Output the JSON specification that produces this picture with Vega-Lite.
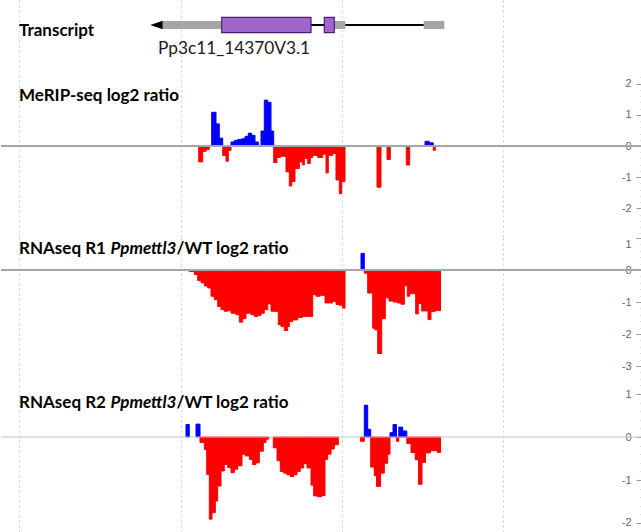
{
"$schema":"https://vega.github.io/schema/vega-lite/v6.json",
"padding":0,
"spacing":0,
"background":"#ffffff",
"config":{"view":{"stroke":null},"font":"Lato"},
"datasets":{
"gene":[
{"part":"arrow","start":149.3,"end":161.7},
{"part":"UTR","start":161.7,"end":220.7},
{"part":"CDS","start":220.7,"end":310},
{"part":"intron","start":310,"end":323.3},
{"part":"CDS","start":323.3,"end":333.3},
{"part":"UTR","start":333.3,"end":344.3},
{"part":"intron","start":344.3,"end":422.7},
{"part":"UTR","start":422.7,"end":443.3}
],
"labels":[
{"id":"transcript","text":"Transcript"},
{"id":"gene","text":"Pp3c11_14370V3.1"},
{"id":"merip","text":"MeRIP-seq log2 ratio"},
{"id":"r1a","text":"RNAseq R1"},
{"id":"r1b","text":"Ppmettl3"},
{"id":"r1c","text":"/WT log2 ratio"},
{"id":"r2a","text":"RNAseq R2"},
{"id":"r2b","text":"Ppmettl3"},
{"id":"r2c","text":"/WT log2 ratio"}
],
"merip":[
{"s":197.7,"e":201.7,"v":-0.51},{"s":201.7,"e":205,"v":-0.17},{"s":205,"e":208.3,"v":-0.11},
{"s":210.7,"e":215,"v":1.08},{"s":215,"e":218.3,"v":0.71},{"s":218.3,"e":221.7,"v":0.25},
{"s":221.7,"e":225,"v":-0.30},{"s":225,"e":227.3,"v":-0.49},{"s":227.3,"e":230,"v":-0.14},
{"s":230,"e":233.3,"v":0.13},{"s":233.3,"e":236.7,"v":0.18},{"s":236.7,"e":240.7,"v":0.21},
{"s":240.7,"e":244,"v":0.23},{"s":244,"e":247.3,"v":0.31},{"s":247.3,"e":250.7,"v":0.41},
{"s":250.7,"e":254,"v":0.34},{"s":254,"e":257.3,"v":0.13},
{"s":260,"e":263.3,"v":0.48},{"s":263.3,"e":266.7,"v":1.47},{"s":266.7,"e":270,"v":1.40},{"s":270,"e":272.7,"v":0.48},
{"s":272.7,"e":276,"v":-0.53},{"s":276,"e":279.3,"v":-0.37},{"s":279.3,"e":285,"v":-0.33},
{"s":285,"e":288.3,"v":-0.83},{"s":288.3,"e":290.7,"v":-1.28},{"s":290.7,"e":294,"v":-1.14},
{"s":294,"e":298.3,"v":-0.72},{"s":298.3,"e":301.7,"v":-0.51},{"s":301.7,"e":303.3,"v":-0.61},
{"s":303.3,"e":306.7,"v":-0.40},{"s":306.7,"e":309.3,"v":-0.56},{"s":309.3,"e":311.7,"v":-0.37},
{"s":311.7,"e":316.7,"v":-0.30},{"s":316.7,"e":321.7,"v":-0.37},{"s":321.7,"e":325,"v":-0.26},
{"s":325,"e":327.3,"v":-0.86},{"s":327.3,"e":331.7,"v":-0.30},{"s":331.7,"e":335,"v":-0.24},
{"s":335,"e":338.3,"v":-1.09},{"s":338.3,"e":340.7,"v":-1.53},{"s":340.7,"e":344,"v":-1.14},
{"s":376,"e":380,"v":-1.32},{"s":386,"e":389.3,"v":-0.43},{"s":405.3,"e":408.7,"v":-0.61},
{"s":424,"e":428.3,"v":0.15},{"s":428.3,"e":432.3,"v":0.10},{"s":432.3,"e":434.3,"v":-0.14}
],
"r1":[
{"s":188.3,"e":193.3,"v":-0.05},{"s":193.3,"e":196.7,"v":-0.14},{"s":196.7,"e":200,"v":-0.33},
{"s":200,"e":203.3,"v":-0.40},{"s":203.3,"e":206.7,"v":-0.50},{"s":206.7,"e":210,"v":-0.56},
{"s":210,"e":213.3,"v":-0.82},{"s":213.3,"e":216.7,"v":-0.93},{"s":216.7,"e":220,"v":-1.14},
{"s":220,"e":223.3,"v":-1.24},{"s":223.3,"e":226.7,"v":-1.29},{"s":226.7,"e":230,"v":-1.27},
{"s":230,"e":235,"v":-1.35},{"s":235,"e":238.3,"v":-1.40},{"s":238.3,"e":241.7,"v":-1.63},
{"s":241.7,"e":245,"v":-1.52},{"s":245,"e":250,"v":-1.35},{"s":250,"e":253.3,"v":-1.40},
{"s":253.3,"e":256.7,"v":-1.45},{"s":256.7,"e":260,"v":-1.42},{"s":260,"e":263.3,"v":-1.35},
{"s":263.3,"e":266.7,"v":-1.24},{"s":266.7,"e":270,"v":-1.06},{"s":270,"e":277.3,"v":-1.29},
{"s":277.3,"e":280,"v":-1.71},{"s":280,"e":283.3,"v":-1.77},{"s":283.3,"e":286.7,"v":-1.89},
{"s":286.7,"e":288.3,"v":-1.77},{"s":288.3,"e":291.7,"v":-1.61},{"s":291.7,"e":296.7,"v":-1.56},
{"s":296.7,"e":301.7,"v":-1.48},{"s":301.7,"e":306.7,"v":-1.45},{"s":306.7,"e":311.7,"v":-1.45},
{"s":311.7,"e":315,"v":-0.77},{"s":315,"e":319.3,"v":-0.82},{"s":319.3,"e":324,"v":-0.79},
{"s":324,"e":327.3,"v":-1.03},{"s":327.3,"e":331.7,"v":-1.03},{"s":331.7,"e":335,"v":-0.98},
{"s":335,"e":338.3,"v":-1.08},{"s":338.3,"e":341.7,"v":-1.10},{"s":341.7,"e":344,"v":-1.19},
{"s":360,"e":363.3,"v":0.52},
{"s":363.3,"e":366.7,"v":-0.10},{"s":366.7,"e":371.7,"v":-0.72},{"s":371.7,"e":374,"v":-1.82},
{"s":374,"e":376.7,"v":-1.87},{"s":376.7,"e":380.7,"v":-2.61},{"s":380.7,"e":384.3,"v":-1.52},
{"s":384.3,"e":388,"v":-0.87},{"s":388,"e":392.5,"v":-0.97},{"s":392.5,"e":396.7,"v":-1.00},
{"s":396.7,"e":400,"v":-1.03},{"s":400,"e":403.3,"v":-1.07},{"s":403.3,"e":406.3,"v":-0.49},
{"s":406.3,"e":408.7,"v":-0.82},{"s":408.7,"e":414.7,"v":-0.74},{"s":414.7,"e":417.3,"v":-1.37},
{"s":417.3,"e":420.7,"v":-1.05},{"s":420.7,"e":427,"v":-1.28},{"s":427,"e":430,"v":-1.55},
{"s":430,"e":434,"v":-1.30},{"s":434,"e":439.5,"v":-1.27}
],
"r2":[
{"s":185,"e":188.3,"v":0.29},{"s":195,"e":199,"v":0.30},
{"s":199,"e":203.3,"v":-0.13},{"s":203.3,"e":205.7,"v":-0.29},{"s":205.7,"e":208.3,"v":-0.87},
{"s":208.3,"e":211,"v":-1.91},{"s":211,"e":214.3,"v":-1.76},{"s":214.3,"e":216.7,"v":-1.49},
{"s":216.7,"e":220,"v":-1.14},{"s":220,"e":223.3,"v":-0.79},{"s":223.3,"e":226.7,"v":-0.64},
{"s":226.7,"e":230,"v":-0.71},{"s":230,"e":233.3,"v":-0.83},{"s":233.3,"e":236.7,"v":-0.75},
{"s":236.7,"e":241,"v":-0.67},{"s":241,"e":244.3,"v":-0.40},{"s":244.3,"e":248.3,"v":-0.44},
{"s":248.3,"e":251.7,"v":-0.52},{"s":251.7,"e":255,"v":-0.64},{"s":255,"e":258.3,"v":-0.60},
{"s":258.3,"e":262.3,"v":-0.33},{"s":262.3,"e":265,"v":-0.13},{"s":265,"e":267.7,"v":-0.05},
{"s":272.3,"e":276,"v":-0.25},{"s":276,"e":279.3,"v":-0.55},{"s":279.3,"e":282.7,"v":-0.80},
{"s":282.7,"e":286,"v":-0.84},{"s":286,"e":289.3,"v":-0.88},{"s":289.3,"e":292.7,"v":-0.92},
{"s":292.7,"e":296,"v":-0.88},{"s":296,"e":299.3,"v":-0.80},{"s":299.3,"e":302.7,"v":-0.72},
{"s":302.7,"e":306,"v":-0.62},{"s":306,"e":310,"v":-0.72},{"s":310,"e":312.7,"v":-1.12},
{"s":312.7,"e":316.7,"v":-1.37},{"s":316.7,"e":320.7,"v":-1.39},{"s":320.7,"e":324,"v":-1.36},
{"s":324,"e":326.7,"v":-0.52},{"s":326.7,"e":330,"v":-0.40},{"s":330,"e":333.3,"v":-0.28},
{"s":333.3,"e":337.3,"v":-0.18},
{"s":359.5,"e":363.3,"v":-0.10},{"s":363.3,"e":366.7,"v":0.74},{"s":366.7,"e":369.7,"v":0.18},
{"s":369.7,"e":373.3,"v":-0.70},{"s":373.3,"e":375.5,"v":-0.90},{"s":375.5,"e":379.5,"v":-1.15},
{"s":379.5,"e":383.3,"v":-0.84},{"s":383.3,"e":386.7,"v":-0.61},{"s":386.7,"e":389,"v":-0.40},
{"s":389,"e":392,"v":0.10},{"s":392,"e":395.5,"v":0.29},{"s":395.5,"e":397.8,"v":-0.10},
{"s":397.8,"e":401.7,"v":0.23},{"s":401.7,"e":405.8,"v":0.14},{"s":405.8,"e":410,"v":-0.15},
{"s":410,"e":414.2,"v":-0.36},{"s":414.2,"e":417.5,"v":-0.53},{"s":417.5,"e":421,"v":-1.10},
{"s":421,"e":424.5,"v":-0.59},{"s":424.5,"e":429.5,"v":-0.37},{"s":429.5,"e":436.5,"v":-0.32},
{"s":436.5,"e":439.5,"v":-0.36}
]
},
"vconcat":[
{
"width":641,"height":75,
"layer":[
{"data":{"name":"gene"},"transform":[{"filter":"datum.part == 'UTR'"}],
"mark":{"type":"rect","fill":"#a6a6a6"},
"encoding":{
"x":{"field":"start","type":"quantitative","scale":{"domain":[0,641],"nice":false,"zero":false},"axis":{"values":[18,180,341,502],"grid":true,"gridColor":"#cfcfcf","gridDash":[2,3],"labels":false,"ticks":false,"domain":false,"title":null}},
"x2":{"field":"end"},
"y":{"datum":2.16,"type":"quantitative","scale":{"domain":[0,3],"nice":false,"zero":false},"axis":null},
"y2":{"datum":1.84}}},
{"data":{"name":"gene"},"transform":[{"filter":"datum.part == 'intron'"}],
"mark":{"type":"rule","color":"#000000","strokeWidth":2},
"encoding":{
"x":{"field":"start","type":"quantitative","axis":{"values":[18,180,341,502],"grid":true,"gridColor":"#cfcfcf","gridDash":[2,3],"labels":false,"ticks":false,"domain":false,"title":null}},
"x2":{"field":"end"},
"y":{"datum":2,"type":"quantitative","axis":null}}},
{"data":{"name":"gene"},"transform":[{"filter":"datum.part == 'CDS'"}],
"mark":{"type":"rect","fill":"#a066cc","stroke":"#4b1f6f","strokeWidth":1.2},
"encoding":{
"x":{"field":"start","type":"quantitative","axis":{"values":[18,180,341,502],"grid":true,"gridColor":"#cfcfcf","gridDash":[2,3],"labels":false,"ticks":false,"domain":false,"title":null}},
"x2":{"field":"end"},
"y":{"datum":2.308,"type":"quantitative","axis":null},
"y2":{"datum":1.692}}},
{"data":{"name":"gene"},"transform":[{"filter":"datum.part == 'arrow'"}],
"mark":{"type":"point","shape":"M0,0L2,-0.7L2,0.7Z","filled":true,"color":"#000000","opacity":1,"size":154},
"encoding":{
"x":{"field":"start","type":"quantitative","axis":{"values":[18,180,341,502],"grid":true,"gridColor":"#cfcfcf","gridDash":[2,3],"labels":false,"ticks":false,"domain":false,"title":null}},
"y":{"datum":2,"type":"quantitative","axis":null}}},
{"data":{"name":"labels"},"transform":[{"filter":"datum.id == 'transcript'"}],
"mark":{"type":"text","align":"left","baseline":"alphabetic","font":"Lato","fontSize":17,"fontWeight":"bold","color":"#000000"},
"encoding":{"x":{"datum":18,"type":"quantitative"},"y":{"datum":1.572,"type":"quantitative","axis":null},"text":{"field":"text"}}},
{"data":{"name":"labels"},"transform":[{"filter":"datum.id == 'gene'"}],
"mark":{"type":"text","align":"left","baseline":"alphabetic","font":"Lato","fontSize":17.3,"color":"#1a1a1a"},
"encoding":{"x":{"datum":157,"type":"quantitative"},"y":{"datum":0.828,"type":"quantitative","axis":null},"text":{"field":"text"}}}
]
},
{
"width":641,"height":162,
"resolve":{"axis":{"y":"independent"}},
"layer":[
{"data":{"name":"merip"},
"mark":{"type":"rect","strokeWidth":1},
"encoding":{
"x":{"field":"s","type":"quantitative","scale":{"domain":[0,641],"nice":false,"zero":false},"axis":{"values":[18,180,341,502],"grid":true,"gridColor":"#cfcfcf","gridDash":[2,3],"labels":false,"ticks":false,"domain":false,"title":null}},
"x2":{"field":"e"},
"y":{"field":"v","type":"quantitative","scale":{"domain":[-2.917,2.276],"nice":false,"zero":false},"axis":{"orient":"left","offset":-641,"values":[-2,-1,0,1,2],"domain":false,"grid":false,"tickSize":6,"tickColor":"#9a9a9a","labelColor":"#666666","labelFont":"Liberation Sans","labelFontSize":11,"labelPadding":5,"labelOverlap":false,"title":null,"labelExpr":"datum.value < 0 ? '-' + abs(datum.value) : '' + datum.value"}},
"y2":{"datum":0},
"color":{"condition":{"test":"datum.v > 0","value":"#0000ff"},"value":"#ff0000"},
"stroke":{"condition":{"test":"datum.v > 0","value":"#0000ff"},"value":"#ff0000"}}},
{"data":{"values":[{}]},
"mark":{"type":"rule","color":"#a6a6a6","strokeWidth":2},
"encoding":{"y":{"datum":0,"type":"quantitative","axis":{"orient":"left","offset":-641,"values":[-2.8,-2.6,-2.4,-2.2,-1.8,-1.6,-1.4,-1.2,-0.8,-0.6,-0.4,-0.2,0.2,0.4,0.6,0.8,1.2,1.4,1.6,1.8,2.2],"domain":false,"grid":false,"labels":false,"tickSize":2,"tickColor":"#bdbdbd","title":null}}}},
{"data":{"name":"labels"},"transform":[{"filter":"datum.id == 'merip'"}],
"mark":{"type":"text","align":"left","baseline":"alphabetic","font":"Lato","fontSize":17,"fontWeight":"bold","color":"#000000"},
"encoding":{"x":{"datum":18,"type":"quantitative"},"y":{"datum":1.452,"type":"quantitative","axis":null},"text":{"field":"text"}}}
]
},
{
"width":641,"height":141,
"resolve":{"axis":{"y":"independent"}},
"layer":[
{"data":{"name":"r1"},
"mark":{"type":"rect","strokeWidth":1},
"encoding":{
"x":{"field":"s","type":"quantitative","scale":{"domain":[0,641],"nice":false,"zero":false},"axis":{"values":[18,180,341,502],"grid":true,"gridColor":"#cfcfcf","gridDash":[2,3],"labels":false,"ticks":false,"domain":false,"title":null}},
"x2":{"field":"e"},
"y":{"field":"v","type":"quantitative","scale":{"domain":[-3.406,1],"nice":false,"zero":false},"axis":{"orient":"left","offset":-641,"values":[-3,-2,-1,0,1],"domain":false,"grid":false,"tickSize":6,"tickColor":"#9a9a9a","labelColor":"#666666","labelFont":"Liberation Sans","labelFontSize":11,"labelPadding":5,"labelOverlap":false,"labelFlush":true,"title":null,"labelExpr":"datum.value < 0 ? '-' + abs(datum.value) : '' + datum.value"}},
"y2":{"datum":0},
"color":{"condition":{"test":"datum.v > 0","value":"#0000ff"},"value":"#ff0000"},
"stroke":{"condition":{"test":"datum.v > 0","value":"#0000ff"},"value":"#ff0000"}}},
{"data":{"values":[{}]},
"mark":{"type":"rule","color":"#a6a6a6","strokeWidth":2},
"encoding":{"y":{"datum":0,"type":"quantitative","axis":{"orient":"left","offset":-641,"values":[-3.4,-3.2,-2.8,-2.6,-2.4,-2.2,-1.8,-1.6,-1.4,-1.2,-0.8,-0.6,-0.4,-0.2,0.2,0.4,0.6,0.8],"domain":false,"grid":false,"labels":false,"tickSize":2,"tickColor":"#bdbdbd","title":null}}}},
{"data":{"name":"labels"},"transform":[{"filter":"datum.id == 'r1a'"}],
"mark":{"type":"text","align":"left","baseline":"alphabetic","font":"Lato","fontSize":17,"fontWeight":"bold","color":"#000000"},
"encoding":{"x":{"datum":18,"type":"quantitative"},"y":{"datum":0.49,"type":"quantitative","axis":null},"text":{"field":"text"}}},
{"data":{"name":"labels"},"transform":[{"filter":"datum.id == 'r1b'"}],
"mark":{"type":"text","align":"left","baseline":"alphabetic","font":"Lato","fontSize":17,"fontWeight":"bold","fontStyle":"italic","color":"#000000"},
"encoding":{"x":{"datum":109.5,"type":"quantitative"},"y":{"datum":0.49,"type":"quantitative","axis":null},"text":{"field":"text"}}},
{"data":{"name":"labels"},"transform":[{"filter":"datum.id == 'r1c'"}],
"mark":{"type":"text","align":"left","baseline":"alphabetic","font":"Lato","fontSize":17,"fontWeight":"bold","color":"#000000"},
"encoding":{"x":{"datum":175.5,"type":"quantitative"},"y":{"datum":0.49,"type":"quantitative","axis":null},"text":{"field":"text"}}}
]
},
{
"width":641,"height":154,
"resolve":{"axis":{"y":"independent"}},
"layer":[
{"data":{"name":"r2"},
"mark":{"type":"rect","strokeWidth":1},
"encoding":{
"x":{"field":"s","type":"quantitative","scale":{"domain":[0,641],"nice":false,"zero":false},"axis":{"values":[18,180,341,502],"grid":true,"gridColor":"#cfcfcf","gridDash":[2,3],"labels":false,"ticks":false,"domain":false,"title":null}},
"x2":{"field":"e"},
"y":{"field":"v","type":"quantitative","scale":{"domain":[-2.256,1.326],"nice":false,"zero":false},"axis":{"orient":"left","offset":-641,"values":[-2,-1,0,1],"domain":false,"grid":false,"tickSize":6,"tickColor":"#9a9a9a","labelColor":"#666666","labelFont":"Liberation Sans","labelFontSize":11,"labelPadding":5,"labelOverlap":false,"title":null,"labelExpr":"datum.value < 0 ? '-' + abs(datum.value) : '' + datum.value"}},
"y2":{"datum":0},
"color":{"condition":{"test":"datum.v > 0","value":"#0000ff"},"value":"#ff0000"},
"stroke":{"condition":{"test":"datum.v > 0","value":"#0000ff"},"value":"#ff0000"}}},
{"data":{"values":[{}]},
"mark":{"type":"rule","color":"#c4c4c4","strokeWidth":1},
"encoding":{"y":{"datum":0,"type":"quantitative","axis":{"orient":"left","offset":-641,"values":[-2.2,-1.8,-1.6,-1.4,-1.2,-0.8,-0.6,-0.4,-0.2,0.2,0.4,0.6,0.8,1.2],"domain":false,"grid":false,"labels":false,"tickSize":2,"tickColor":"#bdbdbd","title":null}}}},
{"data":{"name":"labels"},"transform":[{"filter":"datum.id == 'r2a'"}],
"mark":{"type":"text","align":"left","baseline":"alphabetic","font":"Lato","fontSize":17,"fontWeight":"bold","color":"#000000"},
"encoding":{"x":{"datum":18,"type":"quantitative"},"y":{"datum":0.681,"type":"quantitative","axis":null},"text":{"field":"text"}}},
{"data":{"name":"labels"},"transform":[{"filter":"datum.id == 'r2b'"}],
"mark":{"type":"text","align":"left","baseline":"alphabetic","font":"Lato","fontSize":17,"fontWeight":"bold","fontStyle":"italic","color":"#000000"},
"encoding":{"x":{"datum":109.5,"type":"quantitative"},"y":{"datum":0.681,"type":"quantitative","axis":null},"text":{"field":"text"}}},
{"data":{"name":"labels"},"transform":[{"filter":"datum.id == 'r2c'"}],
"mark":{"type":"text","align":"left","baseline":"alphabetic","font":"Lato","fontSize":17,"fontWeight":"bold","color":"#000000"},
"encoding":{"x":{"datum":175.5,"type":"quantitative"},"y":{"datum":0.681,"type":"quantitative","axis":null},"text":{"field":"text"}}}
]
}
]
}
